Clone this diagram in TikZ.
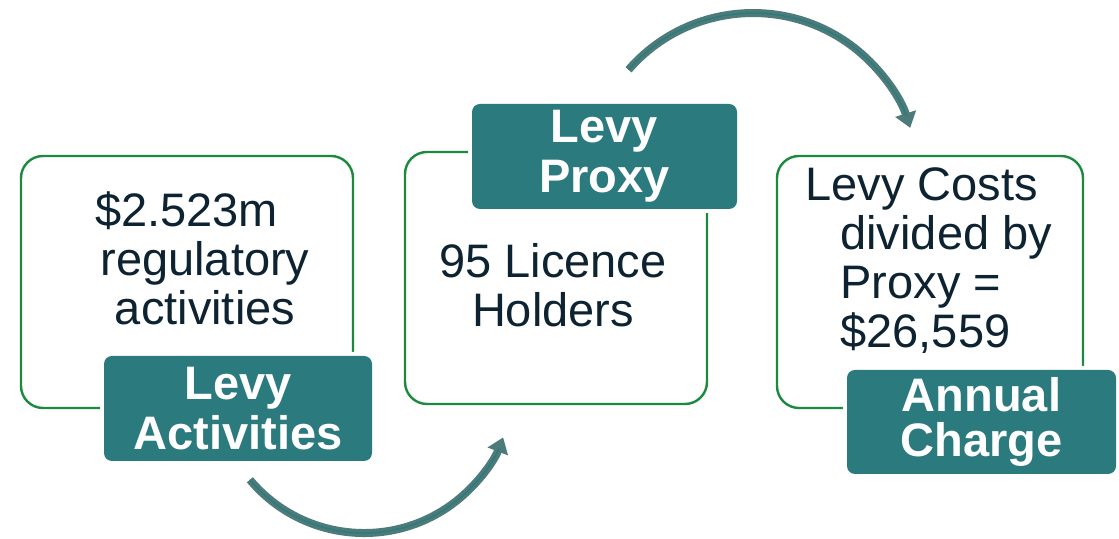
\documentclass[tikz,border=0pt]{standalone}
\usepackage{fontspec}
\setmainfont{Liberation Sans}
\usepackage{tikz}
\usetikzlibrary{arrows.meta}

\definecolor{boxGreen}{HTML}{1B8A3E}
\definecolor{tagTeal}{HTML}{2A7A7E}
\definecolor{arrowGrey}{HTML}{4D7B7A}
\definecolor{inkDark}{HTML}{0E2331}

\begin{document}
\begin{tikzpicture}[x=0.5pt, y=0.5pt,
    outerBox/.style={draw=boxGreen, line width=1.2pt, rounded corners=11pt, minimum height=126pt, inner sep=0pt},
    tagBox/.style={fill=tagTeal, rounded corners=4pt, text=white, font=\fontsize{23.5}{25}\selectfont\bfseries, align=center, inner sep=0pt, preaction={draw=white, line width=4pt}},
    bodyText/.style={text=inkDark, font=\fontsize{23.5}{24.5}\selectfont, inner sep=0pt},
    flowArrow/.style={draw=arrowGrey, line width=4pt, -{Triangle[width=10.5pt, length=7.5pt]},
        postaction={draw=tagTeal, line width=0.7pt, -, shorten >=6pt}}]
    % Cadre de la page
    \useasboundingbox (0,0) rectangle (1119,539);

    % Cadres verts
    \node[outerBox, minimum width=166pt] (activitiesBox) at (187,257) {};
    \node[outerBox, minimum width=151pt] (proxyBox) at (556,261) {};
    \node[outerBox, minimum width=153pt] (chargeBox) at (930,257) {};

    % Textes des cadres (ancre sur la derniere ligne)
    \node[bodyText, align=center, anchor=base] (activitiesText) at (205,214) {\$2.523m\hspace*{18.5pt}\\regulatory\\activities};
    \node[bodyText, align=center, anchor=base] (proxyText) at (553,212) {95 Licence\\Holders};
    \node[bodyText, align=left, anchor=base west] (chargeText) at (840,191) {\hspace*{-17.5pt}Levy Costs\\divided by\\Proxy =\\\$26,559};

    % Etiquettes
    \node[tagBox, minimum width=134pt, minimum height=52.5pt] (activitiesTag) at (238,130.5) {Levy\\Activities};
    \node[tagBox, minimum width=132.5pt, minimum height=52.5pt] (proxyTag) at (604.5,382.5) {Levy\\Proxy};
    \node[tagBox, minimum width=134.5pt, minimum height=52pt, font=\fontsize{23.5}{22.5}\selectfont\bfseries] (chargeTag) at (981.5,117) {Annual\\Charge};

    % Fleches
    \coordinate (bottomStart) at (249.9,59.2);
    \coordinate (topStart) at (628.5,469.2);
    \draw[flowArrow] (bottomStart) arc[start angle=220, end angle=339, radius=149];
    \draw[flowArrow] (topStart) arc[start angle=139, end angle=17.7, radius=165];
\end{tikzpicture}
\end{document}
